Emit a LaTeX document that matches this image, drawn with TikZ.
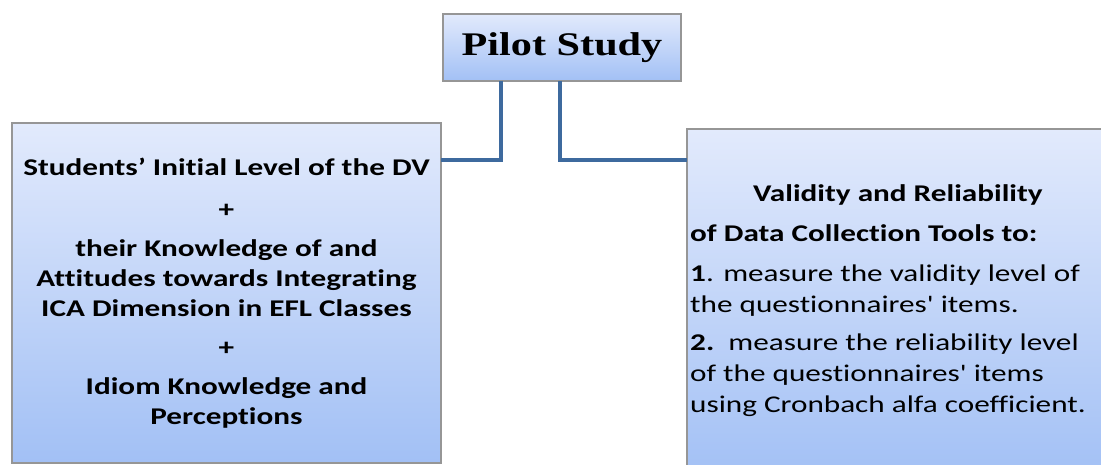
\documentclass[tikz,border=0pt]{standalone}
\usepackage{fontspec}
\setmainfont{Carlito}[FakeStretch=1.3, Ligatures=NoCommon]
\newfontfamily\rawfont{Carlito}[FakeStretch=1.3]
\newfontfamily\titlefont{Liberation Serif}[FakeStretch=1.28]
\definecolor{boxtop}{RGB}{226,234,252}
\definecolor{boxbot}{RGB}{162,192,245}
\definecolor{boxline}{RGB}{150,150,150}
\definecolor{linkblue}{RGB}{62,106,158}
\tikzset{
  grad/.style={draw=boxline, line width=1.1pt, top color=boxtop, bottom color=boxbot,
    inner sep=0pt, outer sep=0pt},
  link/.style={draw=linkblue, line width=3.6pt, line cap=butt, line join=miter},
}
% straight apostrophe, set without the TeX quote mapping
\newcommand{\sq}{{\rawfont '}}
\begin{document}
\begin{tikzpicture}[x=1pt,y=-1pt]
\useasboundingbox (0,0) rectangle (1101,465);
\clip (0,0) rectangle (1101,465);
% title box
\node[grad, minimum width=238pt, minimum height=67pt,
  font=\titlefont\bfseries\fontsize{33}{36}\selectfont] (pilot) at (562,47.5) {Pilot Study};
% left box with its text
\node[grad, minimum width=429pt, minimum height=340pt, align=center,
  font=\bfseries\fontsize{24}{30}\selectfont] (left) at (226.5,293)
  {Students’ Initial Level of the DV\\[12pt]
   +\\[9pt]
   their Knowledge of and\\
   Attitudes towards Integrating\\
   ICA Dimension in EFL Classes\\[9pt]
   +\\[9pt]
   Idiom Knowledge and\\
   Perceptions};
% right box, running past the page edge
\node[grad, minimum width=440pt, minimum height=350pt] (right) at (907,304) {};
\node[anchor=north west, inner sep=0pt, align=left,
  font=\fontsize{24}{31}\selectfont] (righttext) at (690,184)
  {\hspace*{63pt}\textbf{Validity and Reliability}\\[9pt]
   \textbf{of Data Collection Tools to:}\\[9pt]
   \textbf{1}. measure the validity level of\\
   the questionnaires\sq{} items.\\[7pt]
   \textbf{2.}\ \ measure the reliability level\\
   of the questionnaires\sq{} items\\
   using Cronbach alfa coefficient.};
% connectors
\coordinate (ja) at (501,160);
\coordinate (jb) at (560,160);
\draw[link] (pilot.south -| ja) -- (ja) -- (left.east |- ja);
\draw[link] (pilot.south -| jb) -- (jb) -- (right.west |- jb);
\end{tikzpicture}
\end{document}
